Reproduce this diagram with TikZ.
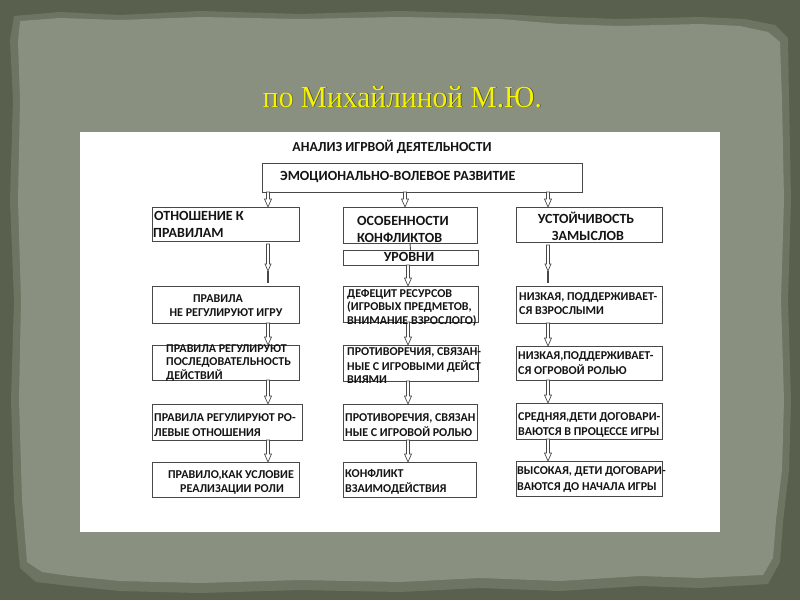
\documentclass[tikz,border=0pt]{standalone}
\usepackage{fontspec}
\setmainfont{Carlito}
\newfontfamily\titlefont{Liberation Serif}
\usetikzlibrary{calc}
\definecolor{bgdark}{HTML}{5A604E}
\definecolor{bgmid}{HTML}{6E7462}
\definecolor{bgpaper}{HTML}{899080}
\definecolor{boxline}{HTML}{484848}
\definecolor{ttl}{HTML}{F4F400}
\definecolor{txtc}{HTML}{141414}
\newcommand\bx[5]{\node[box,anchor=north west,minimum width={(#4-#2)*1pt},minimum height={(#5-#3)*1pt}] (#1) at (#2,#3) {};}
\newcommand\tl[4]{\node[tx] (#1) at (#2,#3) {#4};}
\newcommand\tc[4]{\node[tx,anchor=base] (#1) at (#2,#3) {#4};}
\newcommand\harr[3]{\draw[arrline] let \p1=(#1.south), \p2=(#2.north) in
 ({#3pt-1.5pt},{\y1}) -- ({#3pt-1.5pt},{\y2+8pt}) -- ({#3pt-3.5pt},{\y2+8pt}) -- (#3pt,\y2) -- ({#3pt+3.5pt},{\y2+8pt}) -- ({#3pt+1.5pt},{\y2+8pt}) -- ({#3pt+1.5pt},{\y1}) -- cycle;}
\newcommand\harrlong[3]{\draw[arrline] let \p1=(#1.south), \p2=(#2.north) in
 ({#3pt-1.5pt},{\y1-3pt}) -- ({#3pt-1.5pt},{\y2+22pt}) -- ({#3pt-3pt},{\y2+22pt}) -- (#3pt,{\y2+15pt}) -- ({#3pt+3pt},{\y2+22pt}) -- ({#3pt+1.5pt},{\y2+22pt}) -- ({#3pt+1.5pt},{\y1-3pt}) -- cycle;
 \draw[conn,line width=1.2pt] let \p2=(#2.north) in (#3pt,{\y2+15pt}) -- (#3pt,{\y2+3pt});}
\begin{document}
\begin{tikzpicture}[x=1pt,y=-1pt,
  box/.style={draw=boxline,line width=0.9pt,fill=white,inner sep=0pt,outer sep=0pt},
  tx/.style={font=\bfseries\fontsize{12}{14}\selectfont,text=txtc,inner sep=0pt,anchor=base west},
  arrline/.style={draw=boxline,line width=0.7pt,fill=white,line join=miter},
  conn/.style={draw=boxline,line width=0.9pt}]
\useasboundingbox (0,0) rectangle (800,600);
% background
\fill[bgdark] (0,0) rectangle (800,600);
\fill[bgmid] (14,16) -- (60,12) -- (120,15) -- (200,11) -- (300,14) -- (400,11) -- (500,14) -- (560,17) -- (620,19) -- (700,17) -- (745,19) -- (775,25) -- (788,38) -- (789,100) -- (791,200) -- (788,300) -- (791,400) -- (789,470) -- (783,522) -- (780,562) -- (768,584) -- (700,588) -- (640,586) -- (560,591) -- (480,588) -- (400,592) -- (300,590) -- (200,593) -- (120,591) -- (70,586) -- (36,582) -- (20,568) -- (14,500) -- (11,400) -- (14,300) -- (10,200) -- (13,100) -- (10,40) -- cycle;
\fill[bgpaper] (20,21) -- (60,18) -- (120,20) -- (200,17) -- (300,19) -- (400,17) -- (500,19) -- (560,24) -- (620,26) -- (700,24) -- (740,26) -- (768,32) -- (780,42) -- (782,100) -- (784,200) -- (781,300) -- (784,400) -- (782,470) -- (776,520) -- (773,558) -- (763,575) -- (700,578) -- (640,576) -- (560,581) -- (480,578) -- (400,582) -- (300,580) -- (200,583) -- (120,581) -- (70,576) -- (42,572) -- (27,562) -- (22,500) -- (19,400) -- (21,300) -- (18,200) -- (20,100) -- (18,42) -- cycle;
% title
\node[font=\titlefont,text=black!75,inner sep=0pt,anchor=base] (titleshadow) at (403.2,107.8) {\resizebox{279pt}{21pt}{по Михайлиной М.Ю.}};
\node[font=\titlefont,text=ttl,inner sep=0pt,anchor=base] (title) at (402.5,107) {\resizebox{279pt}{21pt}{по Михайлиной М.Ю.}};
% white panel
\fill[white] (80,132) rectangle (720,532);
% heading
\tc{head}{392}{151}{\fontsize{13.8}{15}\selectfont АНАЛИЗ ИГРВОЙ ДЕЯТЕЛЬНОСТИ}
% boxes
\bx{top}{262}{163}{582}{192}
\bx{l1}{152}{207}{299}{241}
\bx{m1}{343}{207}{477}{243}
\bx{r1}{516}{207}{662}{242}
\bx{lev}{343}{250}{478}{265}
\bx{l2}{152}{286}{299}{323}
\bx{m2}{343}{286}{478}{322}
\bx{r2}{516}{286}{662}{323}
\bx{l3}{152}{345}{299}{380}
\bx{m3}{343}{345}{478}{381}
\bx{r3}{516}{346}{662}{380}
\bx{l4}{152}{404}{302}{440}
\bx{m4}{343}{404}{477}{440}
\bx{r4}{516}{403}{662}{439}
\bx{l5}{152}{462}{299}{497}
\bx{m5}{343}{462}{476}{497}
\bx{r5}{516}{461}{662}{496}
% connectors
\harr{top}{l1}{268}
\harr{top}{m1}{405}
\harr{top}{r1}{548}
\draw[conn] (m1.south) -- (lev.north);
\harrlong{l1}{l2}{268}
\harrlong{r1}{r2}{548}
\harr{lev}{m2}{408}
\harr{l2}{l3}{268}
\harr{m2}{m3}{408}
\harr{r2}{r3}{548}
\harr{l3}{l4}{268}
\harr{m3}{m4}{408}
\harr{r3}{r4}{548}
\harr{l4}{l5}{268}
\harr{m4}{m5}{408}
\harr{r4}{r5}{548}
% texts
\tl{topt}{280}{180.5}{\fontsize{14}{16}\selectfont ЭМОЦИОНАЛЬНО-ВОЛЕВОЕ РАЗВИТИЕ}
\tl{l1a}{154}{220.5}{\fontsize{14}{16}\selectfont ОТНОШЕНИЕ К}
\tl{l1b}{153}{237.5}{\fontsize{14}{16}\selectfont ПРАВИЛАМ}
\tl{m1a}{357}{225.5}{\fontsize{14}{16}\selectfont ОСОБЕННОСТИ}
\tl{m1b}{357}{242.5}{\fontsize{14}{16}\selectfont КОНФЛИКТОВ}
\tc{r1a}{586}{223.5}{\fontsize{14}{16}\selectfont УСТОЙЧИВОСТЬ}
\tc{r1b}{588}{240.5}{\fontsize{14}{16}\selectfont ЗАМЫСЛОВ}
\tc{levt}{409}{261.5}{\fontsize{14}{16}\selectfont УРОВНИ}
\tc{l2a}{218}{302}{ПРАВИЛА}
\tc{l2b}{226}{316}{НЕ РЕГУЛИРУЮТ ИГРУ}
\tl{m2a}{347}{297}{ДЕФЕЦИТ РЕСУРСОВ}
\tl{m2b}{347}{310.5}{(ИГРОВЫХ ПРЕДМЕТОВ,}
\tl{m2c}{347}{324}{ВНИМАНИЕ ВЗРОСЛОГО)}
\tl{r2a}{519}{300}{НИЗКАЯ, ПОДДЕРЖИВАЕТ-}
\tl{r2b}{519}{314}{СЯ ВЗРОСЛЫМИ}
\tl{l3a}{166}{352}{ПРАВИЛА РЕГУЛИРУЮТ}
\tl{l3b}{166}{365.5}{ПОСЛЕДОВАТЕЛЬНОСТЬ}
\tl{l3c}{166}{379.5}{ДЕЙСТВИЙ}
\tl{m3a}{347}{355.5}{ПРОТИВОРЕЧИЯ, СВЯЗАН-}
\tl{m3b}{347}{370.5}{НЫЕ С ИГРОВЫМИ ДЕЙСТ}
\tl{m3c}{347}{383.5}{ВИЯМИ}
\tl{r3a}{518}{359.5}{НИЗКАЯ,ПОДДЕРЖИВАЕТ-}
\tl{r3b}{518}{374.5}{СЯ ОГРОВОЙ РОЛЬЮ}
\tl{l4a}{154}{421.5}{ПРАВИЛА РЕГУЛИРУЮТ РО-}
\tl{l4b}{154}{436.5}{ЛЕВЫЕ ОТНОШЕНИЯ}
\tl{m4a}{345}{421.5}{ПРОТИВОРЕЧИЯ, СВЯЗАН}
\tl{m4b}{345}{436.5}{НЫЕ С ИГРОВОЙ РОЛЬЮ}
\tl{r4a}{518}{420.5}{СРЕДНЯЯ,ДЕТИ ДОГОВАРИ-}
\tl{r4b}{518}{435.5}{ВАЮТСЯ В ПРОЦЕССЕ ИГРЫ}
\tc{l5a}{231}{478.5}{ПРАВИЛО,КАК УСЛОВИЕ}
\tc{l5b}{232}{492.5}{РЕАЛИЗАЦИИ РОЛИ}
\tl{m5a}{345}{477.5}{КОНФЛИКТ}
\tl{m5b}{345}{492.5}{ВЗАИМОДЕЙСТВИЯ}
\tl{r5a}{517}{474.5}{ВЫСОКАЯ, ДЕТИ ДОГОВАРИ-}
\tl{r5b}{517}{490.5}{ВАЮТСЯ ДО НАЧАЛА ИГРЫ}
\end{tikzpicture}
\end{document}
